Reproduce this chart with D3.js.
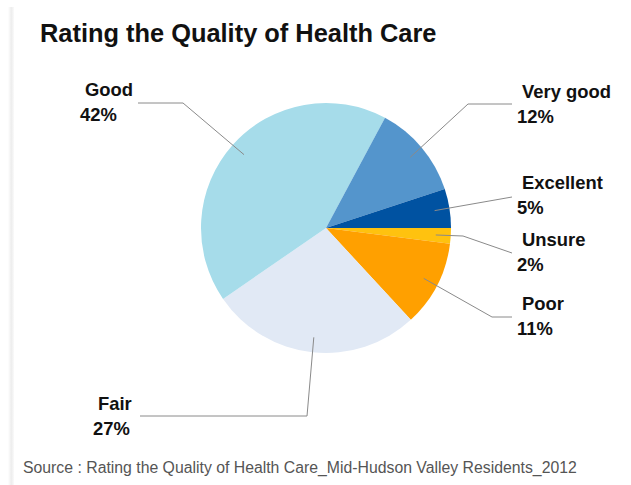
<!DOCTYPE html>
<html>
<head>
<meta charset="utf-8">
<script src="https://cdn.jsdelivr.net/npm/d3@7"></script>
<style>
  html, body { margin: 0; padding: 0; background: #fff; }
  svg { display: block; }
</style>
</head>
<body>
<svg id="chart" width="631" height="485"></svg>
<script>
// ---- data (clockwise from 3 o'clock) ----
const categories = ["Unsure", "Poor", "Fair", "Good", "Very good", "Excellent"];
const values = [2, 11, 27, 42, 12, 5];
const percentLabels = ["2%", "11%", "27%", "42%", "12%", "5%"];
const colors = ["#ffc20f", "#ffa000", "#e1e9f5", "#a6dcea", "#5495cc", "#0052a1"];

const titleText = "Rating the Quality of Health Care";
const sourceText = "Source : Rating the Quality of Health Care_Mid-Hudson Valley Residents_2012";

// ---- layout ----
const W = 631, H = 485;
const cx = 326, cy = 228, R = 125, leaderR = 110;
// label layout: text anchor (x, baseline of first line) and leader elbow points
const labelLayout = {
  "Unsure":    { x: 517, y: 246, pts: [[463, 236], [512, 253]] },
  "Poor":      { x: 517, y: 310, pts: [[492, 317], [512, 317]] },
  "Fair":      { x: 93,  y: 410, pts: [[307, 416], [140, 416]] },
  "Good":      { x: 80,  y: 96,  pts: [[183, 103], [138, 103]] },
  "Very good": { x: 517, y: 98,  pts: [[468, 104], [512, 104]] },
  "Excellent": { x: 517, y: 189, pts: [[512, 197]] }
};

const svg = d3.select("#chart");

// left shadow strip
const defs = svg.append("defs");
const grad = defs.append("linearGradient").attr("id", "shadow").attr("x1", 0).attr("x2", 1).attr("y1", 0).attr("y2", 0);
grad.append("stop").attr("offset", "0%").attr("stop-color", "#ffffff");
grad.append("stop").attr("offset", "55%").attr("stop-color", "#ededed");
grad.append("stop").attr("offset", "100%").attr("stop-color", "#fafafa");
svg.append("rect").attr("x", 8).attr("y", 7).attr("width", 6).attr("height", H - 7).attr("fill", "url(#shadow)");

// title
svg.append("text")
  .attr("x", 40).attr("y", 42)
  .attr("font-family", "Liberation Sans, Arial, sans-serif")
  .attr("font-weight", "bold")
  .attr("font-size", 25.4)
  .attr("fill", "#111")
  .text(titleText);

// pie
const data = categories.map((c, i) => ({ name: c, value: values[i], pct: percentLabels[i], color: colors[i] }));
const pie = d3.pie().sort(null).value(d => d.value)
  .startAngle(Math.PI / 2).endAngle(Math.PI / 2 + 2 * Math.PI);
const arcs = pie(data);
const arc = d3.arc().innerRadius(0).outerRadius(R);
const leaderArc = d3.arc().innerRadius(leaderR).outerRadius(leaderR);

const g = svg.append("g").attr("transform", `translate(${cx},${cy})`);
g.selectAll("path.slice").data(arcs).enter().append("path")
  .attr("class", "slice")
  .attr("d", arc)
  .attr("fill", d => d.data.color);

// leader lines
const line = d3.line();
arcs.forEach(a => {
  const c = leaderArc.centroid(a);
  const start = [cx + c[0], cy + c[1]];
  const L = labelLayout[a.data.name];
  svg.append("path")
    .attr("d", line([start, ...L.pts]))
    .attr("fill", "none")
    .attr("stroke", "#8a8a8a")
    .attr("stroke-width", 1);
});

// labels
arcs.forEach(a => {
  const L = labelLayout[a.data.name];
  const t = svg.append("text")
    .attr("font-family", "Liberation Sans, Arial, sans-serif")
    .attr("font-weight", "bold")
    .attr("font-size", 18.4)
    .attr("fill", "#111");
  t.append("tspan").attr("x", L.x + 5).attr("y", L.y).text(a.data.name);
  t.append("tspan").attr("x", L.x).attr("y", L.y + 25).text(a.data.pct);
});

// source
svg.append("text")
  .attr("x", 23).attr("y", 473)
  .attr("font-family", "Liberation Sans, Arial, sans-serif")
  .attr("font-size", 15.8)
  .attr("fill", "#555")
  .text(sourceText);
</script>
</body>
</html>
